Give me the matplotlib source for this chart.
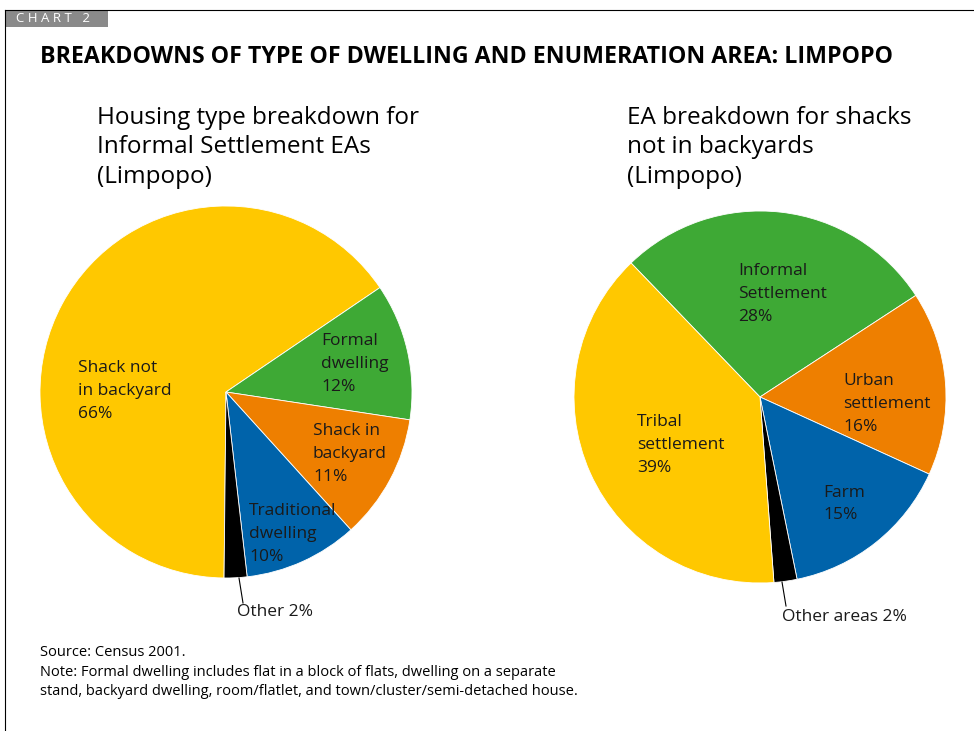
import matplotlib

matplotlib.use("Agg")
import matplotlib.pyplot as plt
from matplotlib.lines import Line2D
from matplotlib.patches import Rectangle

W, H = 974, 731

# left chart: housing type in informal settlement EAs
housing_labels = ["Shack not\nin backyard\n66%", "Formal\ndwelling\n12%", "Shack in\nbackyard\n11%",
                  "Traditional\ndwelling\n10%", "Other 2%"]
housing_values = [66, 12, 11, 10, 2]

# right chart: EA type for shacks not in backyards
ea_labels = ["Informal\nSettlement\n28%", "Urban\nsettlement\n16%", "Farm\n15%", "Other areas 2%",
             "Tribal\nsettlement\n39%"]
ea_values = [28, 16, 15, 2, 39]

YELLOW = "#ffc800"
GREEN = "#3ea935"
ORANGE = "#ee7f00"
BLUE = "#0063aa"
BLACK = "#000000"

plt.rcParams["font.family"] = ["Open Sans", "DejaVu Sans"]


def fx(x):
    return x / W


def fy(y):
    return 1 - y / H


def pie_axes(fig, cx, cy, r):
    ax = fig.add_axes([fx(cx - r), fy(cy + r), 2 * r / W, 2 * r / H])
    return ax


fig = plt.figure(figsize=(W / 100, H / 100), dpi=100)

# frame and chart tag
fig.add_artist(Line2D([fx(5), 1], [fy(10), fy(10)], color="black", lw=0.8))
fig.add_artist(Line2D([fx(5), fx(5)], [fy(10), 0], color="black", lw=0.8))
fig.add_artist(Rectangle((fx(5), fy(27)), fx(103), 17 / H, color="#8a8a8a", lw=0))
fig.text(fx(16), fy(18.5), "C H A R T   2", color="white", fontsize=9.5, va="center", ha="left")

fig.text(fx(40), fy(57), "BREAKDOWNS OF TYPE OF DWELLING AND ENUMERATION AREA: LIMPOPO",
         fontsize=16.7, fontweight="bold", va="center", ha="left")

sub_kw = dict(fontsize=17.5, va="top", ha="left", linespacing=1.3)
fig.text(fx(97), fy(106), "Housing type breakdown for\nInformal Settlement EAs\n(Limpopo)", **sub_kw)
fig.text(fx(627), fy(106), "EA breakdown for shacks\nnot in backyards\n(Limpopo)", **sub_kw)

wedge_style = dict(edgecolor="white", linewidth=0.6)

ax1 = pie_axes(fig, 226, 392, 186)
ax1.pie(housing_values, colors=[YELLOW, GREEN, ORANGE, BLUE, BLACK], startangle=-90.6,
        counterclock=False, wedgeprops=wedge_style)
ax1.set_xlim(-1, 1)
ax1.set_ylim(-1, 1)

ax2 = pie_axes(fig, 760, 397, 186)
ax2.pie(ea_values, colors=[GREEN, ORANGE, BLUE, BLACK, YELLOW], startangle=133.9,
        counterclock=False, wedgeprops=wedge_style)
ax2.set_xlim(-1, 1)
ax2.set_ylim(-1, 1)

label_kw = dict(fontsize=12.5, va="center", ha="left", linespacing=1.55, color="#1a1a1a")
left_pos = [(78, 391), (321, 364), (313, 454), (249, 534), (237, 612)]
for text, (x, y) in zip(housing_labels, left_pos):
    fig.text(fx(x), fy(y), text, **label_kw)
right_pos = [(738, 294), (843, 404), (823, 504), (782, 617), (637, 445)]
for text, (x, y) in zip(ea_labels, right_pos):
    fig.text(fx(x), fy(y), text, **label_kw)

# leader lines for the small slices
fig.add_artist(Line2D([fx(239), fx(243)], [fy(578), fy(603)], color="black", lw=0.8))
fig.add_artist(Line2D([fx(782), fx(786)], [fy(582), fy(606)], color="black", lw=0.8))

fig.text(fx(40), fy(652), "Source: Census 2001.", fontsize=10.5, va="center", ha="left")
fig.text(fx(40), fy(665),
         "Note: Formal dwelling includes flat in a block of flats, dwelling on a separate\n"
         "stand, backyard dwelling, room/flatlet, and town/cluster/semi-detached house.",
         fontsize=10.5, va="top", ha="left", linespacing=1.4)

fig.savefig("out.png", dpi=100)
